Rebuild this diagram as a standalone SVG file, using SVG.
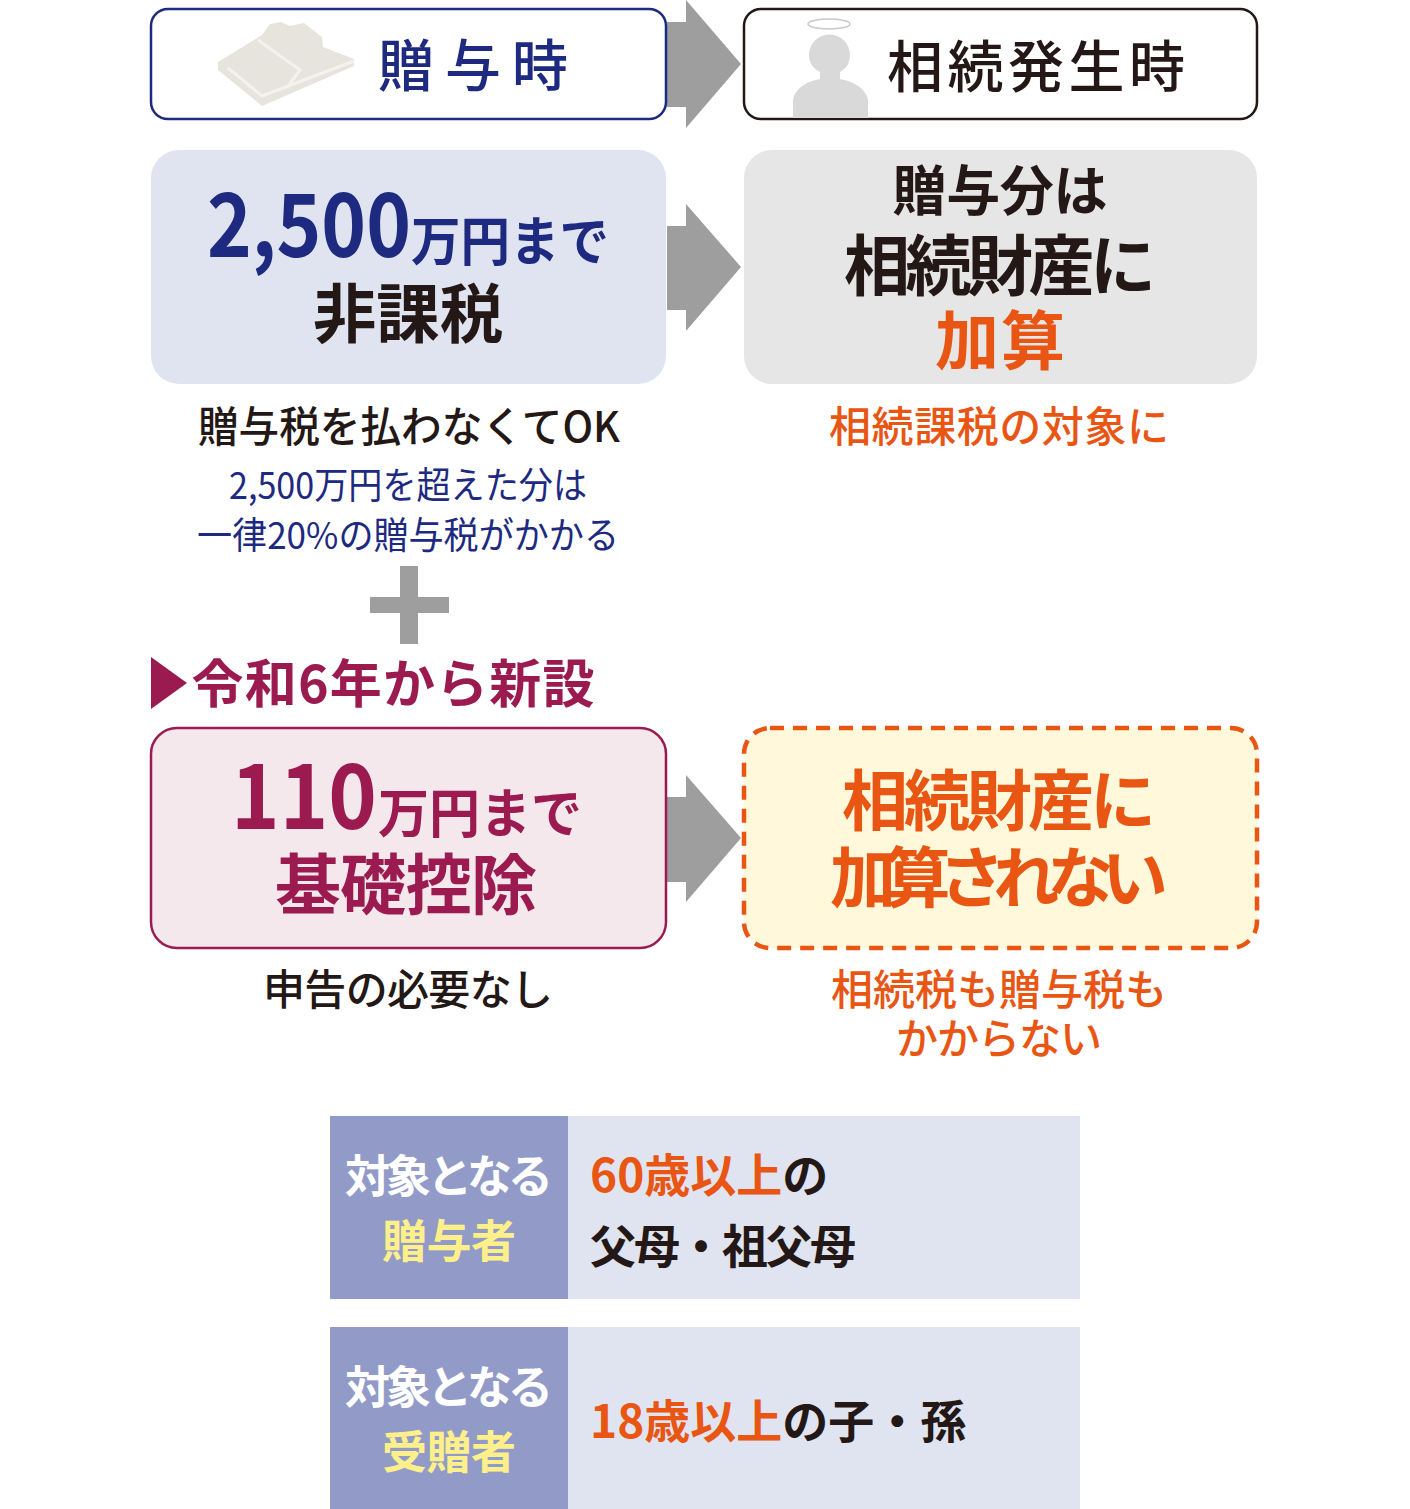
<svg xmlns="http://www.w3.org/2000/svg" width="1410" height="1509" viewBox="0 0 1410 1509">
<style>
text{font-family:"Noto Sans CJK JP","Noto Sans",sans-serif;text-anchor:middle}
.a{fill:#9e9e9e}
.b{font-weight:700}
.m{font-weight:500}
.navy{fill:#1d2a80}.ink{fill:#231815}.or{fill:#e95513}.wine{fill:#9b1b50}.wh{fill:#fff}.ye{fill:#fdf08a}
.lt{font-size:41px;font-weight:500}
.tb{font-size:46px;font-weight:700}
</style>
<rect width="1410" height="1509" fill="#fff"/>
<g id="connectors">
<path class="a" d="M667 22H686V0L741 64L686 128V107H667Z"/>
<path class="a" d="M667 226H686V204L741 267L686 331V310H667Z"/>
<path class="a" d="M667 797H686V775L741 838L686 902V882H667Z"/>
</g>
<g id="node-gift-time">
<rect x="151" y="9" width="515" height="110" rx="17" fill="#fff" stroke="#1d2a80" stroke-width="2.5"/>
<path d="M218 62L262 35L270 24L281 22L290 26L304 23L322 37L323 47L354 59V66L262 106L218 70Z" fill="#e6e4dc"/>
<path d="M228 68L262 96L354 61M258 40L300 70L288 86" fill="none" stroke="#f3f2ee" stroke-width="3"/>
<text x="473" y="86" font-size="56" font-weight="500" class="navy" textLength="190">贈与時</text>
</g>
<g id="node-inherit-time">
<rect x="744" y="9" width="513" height="110" rx="17" fill="#fff" stroke="#231815" stroke-width="2.5"/>
<ellipse cx="829" cy="24" rx="21" ry="5" fill="#fff" stroke="#c9c9c9" stroke-width="1.5"/>
<path d="M793 118V100C795 88 808 81 820 79V72C811 68 809 60 809 55A20.500 20.500 0 0 1 850 55C850 60 848 68 840 72V79C852 81 866 88 868 100V118Z" fill="#d9d9d9"/>
<text x="1036" y="87" font-size="56" font-weight="500" class="ink" textLength="298">相続発生時</text>
</g>
<g id="node-2500">
<rect x="151" y="150" width="515" height="234" rx="28" fill="#dfe4f0"/>
<text x="309" y="257" font-size="88" class="b navy" textLength="204" lengthAdjust="spacingAndGlyphs">2,500</text>
<text x="510" y="261" font-size="53" class="b navy" textLength="198" lengthAdjust="spacingAndGlyphs">万円まで</text>
<text x="408" y="337" font-size="64" class="b ink" textLength="190" lengthAdjust="spacingAndGlyphs">非課税</text>
</g>
<g id="node-add">
<rect x="744" y="150" width="513" height="234" rx="28" fill="#e6e6e6"/>
<text x="1000" y="211" font-size="54" class="b ink" textLength="215">贈与分は</text>
<text x="1000" y="290" font-size="66" class="b ink" textLength="312">相続財産に</text>
<text x="1000" y="364" font-size="64" class="b or" textLength="130">加算</text>
</g>
<g id="labels-1">
<text x="409" y="442" font-size="42" class="m ink" textLength="422" lengthAdjust="spacingAndGlyphs">贈与税を払わなくてOK</text>
<text x="408" y="499" font-size="37" class="navy" textLength="358" lengthAdjust="spacingAndGlyphs">2,500万円を超えた分は</text>
<text x="408" y="549" font-size="37" class="navy" textLength="422" lengthAdjust="spacingAndGlyphs">一律20%の贈与税がかかる</text>
<text x="999" y="442" font-size="42" class="m or" textLength="340">相続課税の対象に</text>
</g>
<path id="plus" class="a" d="M400 566H418V597H449V613H418V644H400V613H370V597H400Z"/>
<g id="heading-new">
<path class="wine" d="M151 657L187 683L151 709Z"/>
<text x="393" y="703" font-size="52" class="b wine" textLength="403">令和6年から新設</text>
</g>
<g id="node-110">
<rect x="151" y="728" width="515" height="220" rx="26" fill="#f5e8ec" stroke="#9b1b50" stroke-width="2.500"/>
<text x="304" y="829" font-size="90" class="b wine" textLength="146" lengthAdjust="spacingAndGlyphs">110</text>
<text x="480" y="833" font-size="53" class="b wine" textLength="204" lengthAdjust="spacingAndGlyphs">万円まで</text>
<text x="406" y="909" font-size="66" class="b wine" textLength="262">基礎控除</text>
</g>
<g id="node-not-added">
<rect x="744" y="728" width="513" height="220" rx="26" fill="#fff8da" stroke="#e95513" stroke-width="4.500" stroke-dasharray="14 9"/>
<text x="999" y="825" font-size="66" class="b or" textLength="314">相続財産に</text>
<text x="999" y="902" font-size="66" class="b or" textLength="338">加算されない</text>
</g>
<g id="labels-2">
<text x="408" y="1005" font-size="42" class="m ink" textLength="290">申告の必要なし</text>
<text x="999" y="1005" font-size="42" class="m or" textLength="336">相続税も贈与税も</text>
<text x="999" y="1054" font-size="42" class="m or" textLength="206">かからない</text>
</g>
<g id="row-giver">
<rect x="330" y="1116" width="750" height="183" fill="#dfe4f0"/>
<rect x="330" y="1116" width="238" height="183" fill="#929bc8"/>
<text x="449" y="1193" font-size="45" class="b wh" textLength="208">対象となる</text>
<text x="449" y="1258" font-size="45" class="b ye" textLength="134">贈与者</text>
<text x="590" y="1192" style="text-anchor:start" class="tb or">60歳以上<tspan class="ink">の</tspan></text>
<text x="590" y="1263" style="text-anchor:start" class="tb ink" textLength="266">父母・祖父母</text>
</g>
<g id="row-receiver">
<rect x="330" y="1327" width="750" height="182" fill="#dfe4f0"/>
<rect x="330" y="1327" width="238" height="182" fill="#929bc8"/>
<text x="449" y="1404" font-size="45" class="b wh" textLength="208">対象となる</text>
<text x="449" y="1469" font-size="45" class="b ye" textLength="134">受贈者</text>
<text x="590" y="1438" style="text-anchor:start" class="tb or">18歳以上<tspan class="ink">の子・孫</tspan></text>
</g>
</svg>
